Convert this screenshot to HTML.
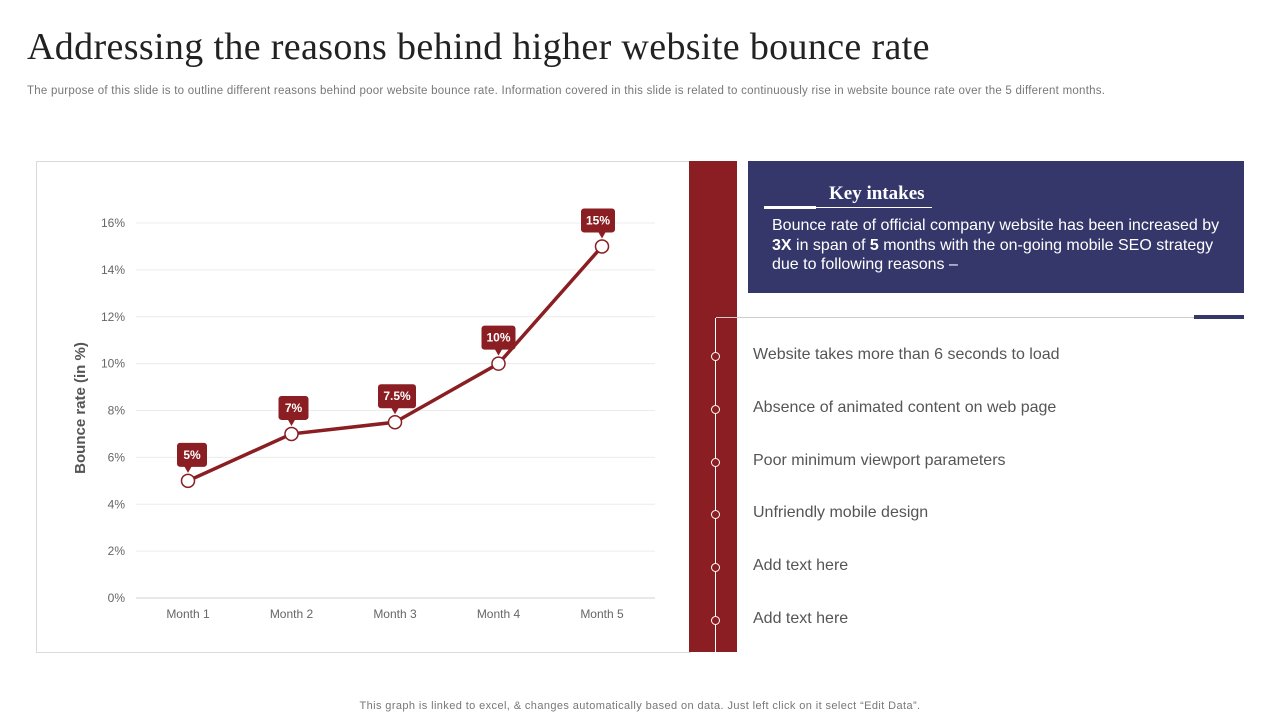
<!DOCTYPE html>
<html><head><meta charset="utf-8">
<style>
body{margin:0;width:1280px;height:720px;background:#fff;position:relative;overflow:hidden;font-family:"Liberation Sans",sans-serif}
.abs{position:absolute}
h1{position:absolute;left:27px;top:25px;margin:0;font-family:"Liberation Serif",serif;font-weight:normal;font-size:38px;color:#222;letter-spacing:0.35px}
.sub{left:27px;top:85px;font-size:11.5px;color:#777;letter-spacing:0.25px;white-space:nowrap}
.reason{left:753px;font-size:16px;color:#555}
</style></head><body>
<h1>Addressing the reasons behind higher website bounce rate</h1>
<div class="abs sub">The purpose of this slide is to outline different reasons behind poor website bounce rate. Information covered in this slide is related to continuously rise in website bounce rate over the 5 different months.</div>

<div class="abs" style="left:36px;top:161px;width:654px;height:490px;border:1px solid #d9d9d9;border-right:none"></div>
<svg class="abs" style="left:0;top:0" width="690" height="660" id="chart"></svg>

<div class="abs" style="left:689px;top:161px;width:48px;height:491px;background:#8b1e22"></div>
<div class="abs" style="left:748px;top:161px;width:496px;height:132px;background:#35376a"></div>
<div class="abs" style="left:829px;top:183px;font-family:'Liberation Serif',serif;font-weight:bold;font-size:19px;color:#fff">Key intakes</div>
<div class="abs" style="left:764px;top:207px;width:168px;height:1px;background:#fff"></div>
<div class="abs" style="left:764px;top:206px;width:52px;height:3px;background:#fff"></div>
<div class="abs" style="left:772px;top:216px;width:460px;font-size:16px;line-height:19.5px;color:#fff">Bounce rate of official company website has been increased by <b>3X</b> in span of <b>5</b> months with the on-going mobile SEO strategy due to following reasons –</div>

<div class="abs" style="left:716px;top:317px;width:528px;height:1px;background:#ccc"></div>
<div class="abs" style="left:1194px;top:315px;width:50px;height:4px;background:#35376a"></div>
<div class="abs" style="left:715px;top:318px;width:1px;height:334px;background:#fff"></div>

<div id="reasons"></div>

<div class="abs" style="left:0;width:1280px;text-align:center;top:700px;font-size:11px;color:#777;letter-spacing:0.4px">This graph is linked to excel, &amp; changes automatically based on data. Just left click on it select “Edit Data”.</div>

<script>
const categories=["Month 1","Month 2","Month 3","Month 4","Month 5"];
const values=[5,7,7.5,10,15];
const labels=["5%","7%","7.5%","10%","15%"];
const yTicks=[0,2,4,6,8,10,12,14,16];
const reasons=["Website takes more than  6 seconds to load","Absence of animated content  on web page","Poor minimum viewport parameters","Unfriendly  mobile design","Add text here","Add text here"];

const NS="http://www.w3.org/2000/svg";
const svg=document.getElementById('chart');
const y0=598,y1=223,x0=188,dx=103.5;
const y=v=>y0-(v-0)/(16-0)*(y0-y1);
const x=i=>x0+i*dx;
function mk(t,a,p){const e=document.createElementNS(NS,t);for(const k in a)e.setAttribute(k,a[k]);(p||svg).appendChild(e);return e;}
yTicks.forEach(t=>{
  const g=mk('line',{x1:136,x2:655,y1:y(t),y2:y(t),stroke:t===0?'#d0d0d0':'#ececec','stroke-width':1});
  
  
  const l=mk('text',{x:125,y:y(t)+4,'text-anchor':'end','font-size':12,fill:'#666','font-family':'Liberation Sans'});
  l.textContent=t+'%';
  
  
});
categories.forEach((c,i)=>{
  const l=mk('text',{x:x(i),y:618,'text-anchor':'middle','font-size':12,fill:'#666','font-family':'Liberation Sans'});
  l.textContent=c;
  
  
});
const yt=mk('text',{x:0,y:0,transform:'translate(85,408) rotate(-90)','text-anchor':'middle','font-size':15,'font-weight':'bold',fill:'#555','font-family':'Liberation Sans'});
yt.textContent='Bounce rate (in %)';


const line=mk('polyline',{points:values.map((v,i)=>x(i)+','+y(v)).join(' '),fill:'none',stroke:'#8b1e22','stroke-width':3.5});


values.forEach((v,i)=>{
  const px=x(i),py=y(v);
  const p=mk('circle',{cx:px,cy:py,r:6.5,fill:'#fff',stroke:'#8b1e22','stroke-width':1.5});
  
  
  const w=labels[i].length>3?38:30+ (labels[i].length-2)*4;
  const bx=px-w/2+(i===0?4:i===4?-4:0)+ (i===1||i===2?2:0), by=py-38;
  const r=mk('rect',{x:bx,y:by,width:w,height:24,rx:3,fill:'#8b1e22'});
  
  
  const tri=mk('polygon',{points:(px-4)+','+(by+23)+' '+(px+4)+','+(by+23)+' '+px+','+(by+30),fill:'#8b1e22'});
  
  
  const t=mk('text',{x:bx+w/2,y:by+16,'text-anchor':'middle','font-size':12,'font-weight':'bold',fill:'#fff','font-family':'Liberation Sans'});
  t.textContent=labels[i];
  
  
});
const rc=document.getElementById('reasons');
reasons.forEach((r,i)=>{
  const cy=356+i*52.8;
  const d=document.createElement('div');
  d.className='abs';
  d.style.cssText='left:711px;top:'+(cy-4)+'px;width:7px;height:7px;border:1px solid #fff;border-radius:50%;background:#8b1e22';
  
  
  rc.appendChild(d);
  const t=document.createElement('div');
  t.className='abs reason';
  t.style.top=(cy-10)+'px';
  t.textContent=r;
  
  
  rc.appendChild(t);
});
</script>
</body></html>
